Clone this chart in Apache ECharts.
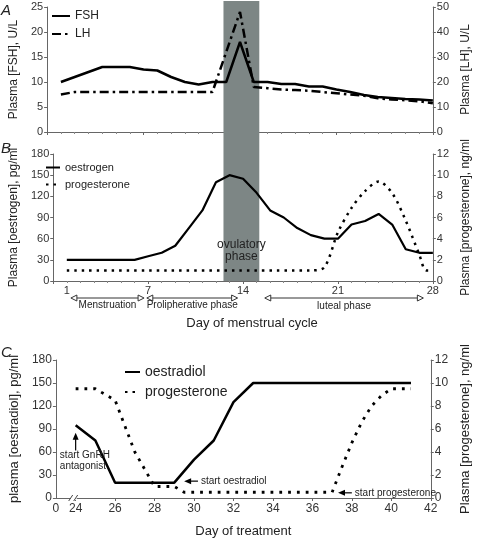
<!DOCTYPE html>
<html><head><meta charset="utf-8">
<script src="https://cdn.jsdelivr.net/npm/echarts@6/dist/echarts.min.js"></script>
<style>html,body{margin:0;padding:0;background:#fff}#c{width:480px;height:539px}</style>
</head><body><div id="c"></div>
<script>
// ---- Panel A / B : menstrual cycle ----
const cycleDays = [1,2,3,4,5,6,7,8,9,10,11,12,13,14,15,16,17,18,19,20,21,22,23,24,25,26,27,28];
const fshValues = [10,11,12,13,13,13,12.5,12.3,11,10,9.5,10,10,18,10,10,9.6,9.6,9.1,9.1,8.5,8,7.4,7,6.8,6.6,6.5,6.3];
const lhValues  = [15,16,16,16,16,16,16,16,16,16,16,16,32,48,18,17.5,17,16.8,16.5,16,15.5,15,14.5,13.5,13,12.7,12.3,11.5];
const oestrogenValues = [30,30,30,30,30,30,35,40,50,75,100,140,150,145,125,100,90,75,65,60,60,80,85,95,80,45,40,40];
const progDaysB   = [1,19,20,21,22,23,24,25,26,27,27.5,28];
const progValuesB = [1,1,1.3,4.6,6.9,8.5,9.4,8.3,5.7,2.5,1,1];
const cycleLabels = [1,7,14,21,28];
const ovulatoryDays = [12.8,15.4];
const phases = [
  {name:'Menstruation', from:1.3, to:6.7},
  {name:'Prolipherative phase', from:6.9, to:13.6},
  {name:'luteal phase', from:15.6, to:27.3}
];
// ---- Panel C : treatment ----
const oestradiolDays   = [24,25,26,29,30,31,32,33,41];
const oestradiolValues = [95,75,20,20,50,75,125,150,150];
const progDaysC   = [24,25,26,27,28,29,29.5,37,37.5,38,38.5,39,39.5,40,41];
const progValuesC = [9.5,9.5,8.5,4,1,1,0.5,0.5,2.7,4.8,6.6,8,8.9,9.5,9.5];
const treatLabels = [23,24,26,28,30,32,34,36,38,40,42];
const treatTicks  = [24,26,28,30,32,34,36,38,40,42];

const FONT = 'Liberation Sans, Arial, sans-serif';
const zip = (a,b) => a.map((v,i)=>[v,b[i]]);

const axisLine = {show:true, lineStyle:{color:'#666', width:1}};
const axisTick = {show:true, length:3, lineStyle:{color:'#666'}};
function yAx(grid, min, max, interval, name, pos, nameGap, fs, nfs){
  return {type:'value', gridIndex:grid, min, max, interval, position:pos,
    name, nameLocation:'middle', nameRotate:90, nameGap,
    nameTextStyle:{fontFamily:FONT, fontSize:nfs, color:'#222'},
    axisLine, axisTick, splitLine:{show:false},
    axisLabel:{fontFamily:FONT, fontSize:fs, color:'#333', margin:4}};
}

const chart = echarts.init(document.getElementById('c'), null, {renderer:'canvas'});
const lineBase = {type:'line', symbol:'none', showSymbol:false, z:5};
const legendBase = {orient:'vertical', itemStyle:{opacity:0}, inactiveColor:'#000'};

chart.setOption({
  animation:false,
  backgroundColor:'#fff',
  textStyle:{fontFamily:FONT},
  grid:[
    {left:33, right:27, top:7, height:125},
    {left:33, right:27, top:154, height:127},
    {left:41, right:29, top:360, height:138}
  ],
  xAxis:[
    {type:'value', gridIndex:0, min:0, max:28, interval:7,
     axisLine, axisTick, minorTick:{show:true, splitNumber:7, length:2, lineStyle:{color:'#888'}},
     axisLabel:{show:false}, splitLine:{show:false}},
    {type:'value', gridIndex:1, min:0, max:28, interval:7,
     axisLine, axisTick, minorTick:{show:true, splitNumber:7, length:2, lineStyle:{color:'#888'}},
     axisLabel:{customValues:cycleLabels, fontFamily:FONT, fontSize:11, color:'#333', margin:4},
     splitLine:{show:false},
     name:'Day of menstrual cycle', nameLocation:'middle', nameGap:36,
     nameTextStyle:{fontFamily:FONT, fontSize:13, color:'#222', padding:[0,0,0,18]}},
    {type:'value', gridIndex:2, min:23, max:42,
     axisLine, axisTick:{show:true, length:3, customValues:treatTicks, lineStyle:{color:'#666'}},
     axisLabel:{customValues:treatLabels, fontFamily:FONT, fontSize:12, color:'#333', margin:5,
       formatter:v => v===23 ? '0' : String(v)},
     splitLine:{show:false},
     name:'Day of treatment', nameLocation:'middle', nameGap:27,
     nameTextStyle:{fontFamily:FONT, fontSize:13, color:'#222'}}
  ],
  yAxis:[
    yAx(0,0,25,5,'Plasma [FSH], U/L','left',20,11,12),
    yAx(0,0,50,10,'Plasma [LH], U/L','right',24,11,12),
    yAx(1,0,180,30,'Plasma [oestrogen], pg/ml','left',23,11,12),
    yAx(1,0,12,2,'Plasma [progesterone], ng/ml','right',21,11,12),
    yAx(2,0,180,30,'plasma [oestradiol], pg/ml','left',28,12,13),
    yAx(2,0,12,2,'Plasma [progesterone], ng/ml','right',22,12,13)
  ],
  legend:[
    Object.assign({}, legendBase, {data:['FSH','LH'], left:46, top:5, itemWidth:18, itemHeight:10, itemGap:6,
     textStyle:{fontFamily:FONT, fontSize:12, color:'#222'}}),
    Object.assign({}, legendBase, {data:['oestrogen','progesterone'], left:40, top:157, itemWidth:14, itemHeight:10, itemGap:6,
     textStyle:{fontFamily:FONT, fontSize:11, color:'#222'}}),
    Object.assign({}, legendBase, {data:['oestradiol','progesterone'], left:119, top:360, itemWidth:15, itemHeight:12, itemGap:6,
     textStyle:{fontFamily:FONT, fontSize:14, color:'#222'}})
  ],
  series:[
    Object.assign({}, lineBase, {name:'FSH', xAxisIndex:0, yAxisIndex:0, data:zip(cycleDays,fshValues),
      lineStyle:{color:'#000', width:2.5}, itemStyle:{color:'#000'}}),
    Object.assign({}, lineBase, {name:'LH', xAxisIndex:0, yAxisIndex:1, data:zip(cycleDays,lhValues),
      lineStyle:{color:'#000', width:2.5, type:[9,4,2.5,4]}, itemStyle:{color:'#000'}}),
    Object.assign({}, lineBase, {name:'oestrogen', xAxisIndex:1, yAxisIndex:2, data:zip(cycleDays,oestrogenValues),
      lineStyle:{color:'#000', width:2.2}, itemStyle:{color:'#000'}}),
    Object.assign({}, lineBase, {name:'progesterone', xAxisIndex:1, yAxisIndex:3, data:zip(progDaysB,progValuesB),
      smooth:0.3, lineStyle:{color:'#000', width:2.5, type:[2.5,5]}, itemStyle:{color:'#000'}}),
    Object.assign({}, lineBase, {name:'oestradiol', xAxisIndex:2, yAxisIndex:4, data:zip(oestradiolDays,oestradiolValues),
      lineStyle:{color:'#000', width:2.5}, itemStyle:{color:'#000'}}),
    Object.assign({}, lineBase, {name:'progesterone', xAxisIndex:2, yAxisIndex:5, data:zip(progDaysC,progValuesC),
      lineStyle:{color:'#000', width:2.8, type:[2.8,6]}, itemStyle:{color:'#000'}})
  ]
});

// ---- annotations positioned through the axes ----
const px = (ax, v) => chart.convertToPixel({xAxisIndex:ax}, v);
const py = (ax, v) => chart.convertToPixel({yAxisIndex:ax}, v);
const g = [];
const txt = (text, x, y, size, align, extra) => Object.assign({type:'text', z:20,
  style:Object.assign({text, x, y, fontFamily:FONT, fontSize:size, fill:'#222', textAlign:align||'center', textVerticalAlign:'middle'}, extra||{})});

// ovulatory shading
const sx0 = px(0, ovulatoryDays[0]), sx1 = px(0, ovulatoryDays[1]);
const bBottom = py(2, 0);
g.push({type:'rect', z:1, shape:{x:sx0, y:1, width:sx1-sx0, height:bBottom-1}, style:{fill:'#7d8685'}});
g.push(txt('ovulatory', (sx0+sx1)/2, py(2,51), 12, 'center'));
g.push(txt('phase', (sx0+sx1)/2, py(2,35), 12, 'center'));

// phase arrows
const ay = bBottom + 17;
phases.forEach(p => {
  const x0 = px(1, p.from), x1 = px(1, p.to);
  g.push({type:'line', z:20, shape:{x1:x0+6, y1:ay, x2:x1-6, y2:ay}, style:{stroke:'#333', lineWidth:1}});
  g.push({type:'polygon', z:20, shape:{points:[[x0,ay],[x0+6,ay-3],[x0+6,ay+3]]}, style:{fill:'#fff', stroke:'#333', lineWidth:1}});
  g.push({type:'polygon', z:20, shape:{points:[[x1,ay],[x1-6,ay-3],[x1-6,ay+3]]}, style:{fill:'#fff', stroke:'#333', lineWidth:1}});
  g.push(txt(p.name, (x0+x1)/2, ay + (p.name==='luteal phase'?8:7), 10, 'center'));
});

// panel letters
const italic = {fontStyle:'italic', fontSize:15};
g.push(txt('A', 1, 11, 15, 'left', italic));
g.push(txt('B', 1, 149, 15, 'left', italic));
g.push(txt('C', 1, 353, 15, 'left', italic));

// axis break marks on panel C
const cb = py(4, 0);
const bx = px(2, 23.85);
g.push({type:'rect', z:20, shape:{x:bx-2, y:cb-2, width:6, height:4}, style:{fill:'#fff'}});
g.push({type:'line', z:21, shape:{x1:bx-4, y1:cb+3, x2:bx, y2:cb-3}, style:{stroke:'#444', lineWidth:1}});
g.push({type:'line', z:21, shape:{x1:bx+1, y1:cb+3, x2:bx+5, y2:cb-3}, style:{stroke:'#444', lineWidth:1}});

// treatment annotations
const ax = px(2, 24), aTop = py(4, 85), aBot = py(4, 62);
g.push({type:'line', z:20, shape:{x1:ax, y1:aBot, x2:ax, y2:aTop+6}, style:{stroke:'#000', lineWidth:1.2}});
g.push({type:'polygon', z:20, shape:{points:[[ax,aTop],[ax-3,aTop+7],[ax+3,aTop+7]]}, style:{fill:'#000'}});
g.push(txt('start GnRH', px(2,23.2), py(4,56), 10, 'left'));
g.push(txt('antagonist', px(2,23.2), py(4,42), 10, 'left'));

function leftArrow(xHead, xTail, y){
  g.push({type:'line', z:20, shape:{x1:xHead+6, y1:y, x2:xTail, y2:y}, style:{stroke:'#000', lineWidth:1.2}});
  g.push({type:'polygon', z:20, shape:{points:[[xHead,y],[xHead+7,y-3],[xHead+7,y+3]]}, style:{fill:'#000'}});
}
const oy = py(4, 22);
leftArrow(px(2,29.5), px(2,30.2), oy);
g.push(txt('start oestradiol', px(2,30.35), oy, 10, 'left'));
const pyy = py(5, 0.45);
leftArrow(px(2,37.3), px(2,38.0), pyy);
g.push(txt('start progesterone', px(2,38.15), pyy, 10, 'left'));

chart.setOption({graphic:g});
</script></body></html>
